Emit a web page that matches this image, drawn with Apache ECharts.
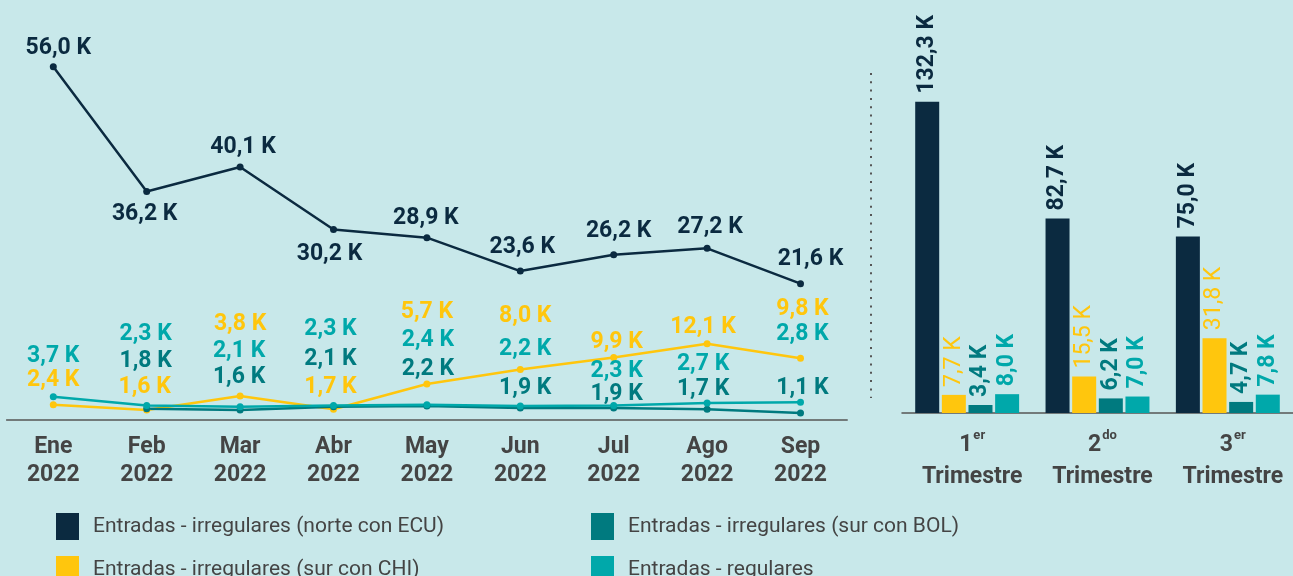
<!DOCTYPE html>
<html>
<head>
<meta charset="utf-8">
<script src="https://cdn.jsdelivr.net/npm/echarts@6/dist/echarts.min.js"></script>
<style>
  html, body { margin: 0; padding: 0; background: #c8e8ea; }
  #chart { width: 1293px; height: 576px; }
</style>
</head>
<body>
<div id="chart"></div>
<script>
// datos mensuales (miles)
var months = ['Ene\n2022', 'Feb\n2022', 'Mar\n2022', 'Abr\n2022', 'May\n2022', 'Jun\n2022', 'Jul\n2022', 'Ago\n2022', 'Sep\n2022'];
var norteECU = [56.0, 36.2, 40.1, 30.2, 28.9, 23.6, 26.2, 27.2, 21.6];
var surCHI = [2.4, 1.6, 3.8, 1.7, 5.7, 8.0, 9.9, 12.1, 9.8];
var surBOL = [null, 1.8, 1.6, 2.1, 2.2, 1.9, 1.9, 1.7, 1.1];
var regulares = [3.7, 2.3, 2.1, 2.3, 2.4, 2.2, 2.3, 2.7, 2.8];

// datos trimestrales (miles)
var quarters = ['1', '2', '3'];
var quarterSup = ['er', 'do', 'er'];
var qNorteECU = [132.3, 82.7, 75.0];
var qSurCHI = [7.7, 15.5, 31.8];
var qSurBOL = [3.4, 6.2, 4.7];
var qRegulares = [8.0, 7.0, 7.8];

var names = [
    'Entradas - irregulares (norte con ECU)',
    'Entradas - irregulares (sur con CHI)',
    'Entradas - irregulares (sur con BOL)',
    'Entradas - regulares'
];
var colors = ['#0b2a40', '#ffc60d', '#007a7f', '#00a8aa'];
var barLabelWeight = ['bold', 'normal', 'bold', 'bold'];
var textGray = '#444444';
var labelWeight = 'bold';

// desplazamiento de etiquetas respecto al punto (px)
var offNorte = [[5, -20], [-2, 21], [3, -22], [-4, 23], [-1, -21], [2, -26], [5, -25], [3, -23], [10, -26]];
var offCHI = [[0, -27], [-2, -25], [0, -74], [-3, -24], [0, -74], [5, -55], [3, -17], [-4, -18], [2, -51]];
var offBOL = [[0, 0], [-1, -49], [-1, -35], [-3, -49], [1, -39], [5, -22], [3, -16], [-4, -22], [2, -27]];
var offReg = [[0, -42], [-1, -73], [-1, -57], [-3, -78], [1, -67], [5, -59], [3, -36], [-4, -41], [2, -70]];

// posición de cada leyenda
var legendPos = [[51, 508], [51, 551], [586, 508], [586, 551]];

function fmt(v) {
    return v.toFixed(1).replace('.', ',') + ' K';
}

function lineData(values, offsets) {
    return values.map(function (v, i) {
        return { value: v, label: { offset: [offsets[i][0], offsets[i][1] + 2] } };
    });
}

function lineSeries(idx, values, offsets) {
    return {
        name: names[idx],
        type: 'line',
        xAxisIndex: 0,
        yAxisIndex: 0,
        data: lineData(values, offsets),
        symbol: 'circle',
        symbolSize: 7,
        connectNulls: false,
        itemStyle: { color: colors[idx] },
        lineStyle: { color: colors[idx], width: 2.5 },
        label: {
            show: true,
            position: 'inside',
            align: 'center',
            verticalAlign: 'middle',
            color: colors[idx],
            fontFamily: 'Roboto',
            fontWeight: labelWeight,
            fontSize: 23,
            formatter: function (p) { return fmt(p.value); }
        },
        emphasis: { disabled: true }
    };
}

function barSeries(idx, values) {
    return {
        name: names[idx],
        type: 'bar',
        xAxisIndex: 1,
        yAxisIndex: 1,
        data: values,
        barWidth: 24,
        barGap: '11%',
        itemStyle: { color: colors[idx] },
        label: {
            show: true,
            position: 'top',
            distance: 8,
            rotate: 90,
            align: 'left',
            verticalAlign: 'middle',
            color: colors[idx],
            fontFamily: 'Roboto',
            fontWeight: barLabelWeight[idx],
            fontSize: 23,
            formatter: function (p) { return fmt(p.value); }
        },
        emphasis: { disabled: true }
    };
}

var legends = names.map(function (n, i) {
    return {
        data: [n],
        left: legendPos[i][0],
        top: legendPos[i][1],
        itemWidth: 23,
        itemHeight: 27,
        icon: 'rect',
        selectedMode: false,
        textStyle: { color: textGray, fontSize: 21, fontFamily: 'Roboto', padding: [0, 0, 0, 9] }
    };
});

var myChart = echarts.init(document.getElementById('chart'));

var option = {
    backgroundColor: '#c8e8ea',
    animation: false,
    textStyle: { fontFamily: 'Roboto' },
    grid: [
        { left: 6.6, top: 41.4, width: 840.6, height: 378.6 },
        { left: 902, top: 60, width: 399, height: 353 }
    ],
    legend: legends,
    xAxis: [
        {
            type: 'category',
            gridIndex: 0,
            data: months,
            boundaryGap: true,
            axisLine: { lineStyle: { color: '#555555', width: 1.5 } },
            axisTick: { inside: true, length: 8, lineStyle: { color: '#555555', width: 1.5 } },
            axisLabel: {
                color: textGray,
                fontFamily: 'Roboto',
                fontWeight: labelWeight,
                fontSize: 23,
                lineHeight: 28,
                margin: 13
            }
        },
        {
            type: 'category',
            gridIndex: 1,
            data: quarters,
            boundaryGap: true,
            axisLine: { lineStyle: { color: '#555555', width: 1.5 } },
            axisTick: { inside: true, length: 8, lineStyle: { color: '#555555', width: 1.5 } },
            axisLabel: {
                margin: 16,
                padding: [0, 0, 0, 10],
                formatter: function (v, i) {
                    return '{n|' + v + '}{s|' + quarterSup[i] + '}\n{t|Trimestre}';
                },
                rich: {
                    n: { color: textGray, fontFamily: 'Roboto', fontWeight: labelWeight, fontSize: 23, lineHeight: 32 },
                    s: { color: textGray, fontFamily: 'Roboto', fontWeight: labelWeight, fontSize: 13, lineHeight: 32, verticalAlign: 'top', padding: [0, 0, 12, 1] },
                    t: { color: textGray, fontFamily: 'Roboto', fontWeight: labelWeight, fontSize: 23, lineHeight: 32 }
                }
            }
        }
    ],
    yAxis: [
        { type: 'value', gridIndex: 0, min: 0, max: 60, show: false },
        { type: 'value', gridIndex: 1, min: 0, max: 150, show: false }
    ],
    graphic: [
        {
            type: 'line',
            shape: { x1: 871, y1: 73, x2: 871, y2: 398 },
            style: { stroke: '#555555', lineWidth: 2, lineDash: [2, 6.3] },
            silent: true
        }
    ],
    series: [
        lineSeries(1, surCHI, offCHI),
        lineSeries(2, surBOL, offBOL),
        lineSeries(3, regulares, offReg),
        lineSeries(0, norteECU, offNorte),
        barSeries(0, qNorteECU),
        barSeries(1, qSurCHI),
        barSeries(2, qSurBOL),
        barSeries(3, qRegulares)
    ]
};

myChart.setOption(option);
</script>
</body>
</html>
